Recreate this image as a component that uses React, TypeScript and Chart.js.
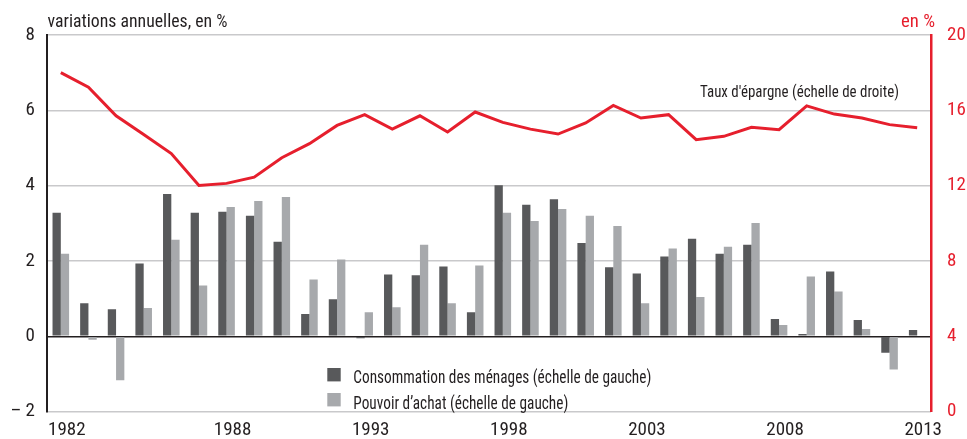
import React, { useEffect, useRef } from "react";
import { Chart, registerables } from "chart.js";

Chart.register(...registerables);

const years = [
  "1982","1983","1984","1985","1986","1987","1988","1989","1990","1991",
  "1992","1993","1994","1995","1996","1997","1998","1999","2000","2001",
  "2002","2003","2004","2005","2006","2007","2008","2009","2010","2011",
  "2012","2013",
];
const shownYears = ["1982", "1988", "1993", "1998", "2003", "2008", "2013"];

const consommation = [
  3.28, 0.88, 0.72, 1.93, 3.78, 3.28, 3.31, 3.2, 2.51, 0.59,
  0.98, -0.05, 1.64, 1.62, 1.85, 0.64, 4.01, 3.49, 3.64, 2.48,
  1.83, 1.67, 2.12, 2.59, 2.19, 2.43, 0.46, 0.06, 1.72, 0.43,
  -0.44, 0.17,
];
const pouvoirAchat = [
  2.19, -0.09, -1.17, 0.75, 2.56, 1.35, 3.43, 3.59, 3.7, 1.51,
  2.04, 0.64, 0.77, 2.43, 0.88, 1.88, 3.28, 3.06, 3.38, 3.2,
  2.93, 0.88, 2.33, 1.04, 2.38, 3.01, 0.3, 1.59, 1.19, 0.19,
  -0.88, null,
];
const tauxEpargne = [
  18.0, 17.23, 15.71, 14.71, 13.7, 12.01, 12.12, 12.45, 13.48, 14.23,
  15.2, 15.77, 15.0, 15.71, 14.85, 15.91, 15.36, 15.0, 14.74, 15.33,
  16.26, 15.59, 15.77, 14.44, 14.62, 15.1, 14.97, 16.24, 15.8, 15.59,
  15.24, 15.08,
];

const leftTicks = [-2, 0, 2, 4, 6, 8];
const rightTicks = [0, 4, 8, 12, 16, 20];

const FONT = "'Roboto Condensed', 'Open Sans', sans-serif";
const DARK = "#58595b";
const LIGHT = "#a7a9ac";
const RED = "#e61f2d";
const TEXT = "#231f20";

function fitText(ctx: CanvasRenderingContext2D, text: string, x: number, y: number, size: number, width: number, align: "left" | "right" = "left") {
  ctx.font = `${size}px ${FONT}`;
  ctx.textAlign = "left";
  const w = ctx.measureText(text).width;
  const sx = width / w;
  const x0 = align === "left" ? x : x - width;
  ctx.save();
  ctx.translate(x0, y);
  ctx.scale(sx, 1);
  ctx.fillText(text, 0, 0);
  ctx.restore();
}

const textPlugin = {
  id: "texts",
  afterDraw(chart: any) {
    const ctx = chart.ctx as CanvasRenderingContext2D;
    ctx.save();
    ctx.textBaseline = "alphabetic";
    ctx.fillStyle = TEXT;
    fitText(ctx, "variations annuelles, en %", 47.5, 27, 17.5, 180);
    ctx.fillStyle = RED;
    fitText(ctx, "en %", 935, 27, 17.5, 34, "right");
    ctx.fillStyle = TEXT;
    fitText(ctx, "Taux d'épargne (échelle de droite)", 700, 97.3, 17, 199);
    ctx.fillStyle = DARK;
    ctx.fillRect(327.3, 368, 13.4, 13.4);
    ctx.fillStyle = LIGHT;
    ctx.fillRect(327.3, 393, 13.4, 13.4);
    ctx.fillStyle = TEXT;
    fitText(ctx, "Consommation des ménages (échelle de gauche)", 353.3, 383.3, 17.5, 298);
    fitText(ctx, "Pouvoir d\u2019achat (échelle de gauche)", 353.3, 409.3, 17.5, 215);
    ctx.restore();
  },
};

export default function App() {
  const ref = useRef<HTMLCanvasElement | null>(null);
  useEffect(() => {
    if (!ref.current) return;
    const chart = new Chart(ref.current, {
      type: "bar",
      data: {
        labels: years,
        datasets: [
          {
            type: "line",
            label: "Taux d'épargne (échelle de droite)",
            data: tauxEpargne,
            yAxisID: "y1",
            borderColor: RED,
            borderWidth: 3,
            pointRadius: 0,
            tension: 0,
            order: 0,
          } as any,
          {
            label: "Consommation des ménages (échelle de gauche)",
            data: consommation,
            backgroundColor: DARK,
            yAxisID: "y",
            categoryPercentage: 0.6,
            barPercentage: 1.0,
            order: 1,
          },
          {
            label: "Pouvoir d\u2019achat (échelle de gauche)",
            data: pouvoirAchat,
            backgroundColor: LIGHT,
            yAxisID: "y",
            categoryPercentage: 0.6,
            barPercentage: 1.0,
            order: 1,
          },
        ],
      },
      options: {
        responsive: false,
        animation: false,
        layout: { padding: { top: 35, left: 0, right: 0, bottom: 0 } },
        plugins: {
          legend: { display: false },
          tooltip: { enabled: false },
        },
        scales: {
          x: {
            grid: { display: false, drawTicks: false },
            border: { display: false },
            afterFit: (s: any) => { s.height = 26; },
            ticks: {
              autoSkip: false,
              maxRotation: 0,
              minRotation: 0,
              padding: 7,
              labelOffset: 6,
              color: TEXT,
              font: { family: FONT, size: 19 },
              callback: (_v: any, i: number) => (shownYears.includes(years[i]) ? years[i] : ""),
            },
          },
          y: {
            position: "left",
            min: -2,
            max: 8,
            afterFit: (s: any) => { s.width = 47; },
            afterBuildTicks: (s: any) => { s.ticks = leftTicks.map((v) => ({ value: v })); },
            grid: {
              drawTicks: false,
              lineWidth: 1.5,
              color: (c: any) => (c.tick && c.tick.value === 0 ? "#231f20" : "#c9c9cb"),
            },
            border: { display: true, color: "#231f20", width: 2 },
            ticks: {
              padding: 12,
              color: TEXT,
              font: { family: FONT, size: 19 },
              callback: (v: any) => (v < 0 ? "\u2013 " + Math.abs(v) : String(v)),
            },
          },
          y1: {
            position: "right",
            min: 0,
            max: 20,
            afterFit: (s: any) => { s.width = 36; },
            afterBuildTicks: (s: any) => { s.ticks = rightTicks.map((v) => ({ value: v })); },
            grid: { display: false, drawTicks: false },
            border: { display: true, color: RED, width: 2.5 },
            ticks: {
              padding: 16,
              color: RED,
              font: { family: FONT, size: 19 },
            },
          },
        },
      },
      plugins: [textPlugin],
    });
    return () => chart.destroy();
  }, []);
  return (
    <div style={{ position: "absolute", left: 0, top: 0, width: 967, height: 439, background: "#fff" }}>
      <canvas ref={ref} width={967} height={439} />
    </div>
  );
}
